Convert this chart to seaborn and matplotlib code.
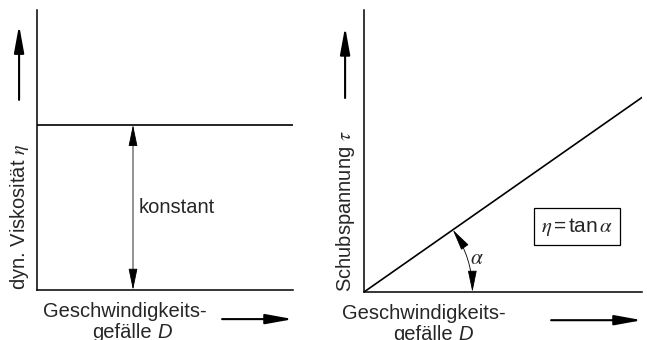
import numpy as np
import pandas as pd
import matplotlib
matplotlib.use("Agg")
import matplotlib.pyplot as plt
import seaborn as sns

# Daten (schematisch, Achsen ohne Skala)
gefaelle = [0.0, 1.0]
viskositaet = [0.59, 0.59]
schubspannung = [0.0, 0.69]
alpha_radius = 0.39  # Bogenradius als Anteil von D

sns.set_style("white")
plt.rcParams['font.family'] = ['Liberation Sans', 'DejaVu Sans']
plt.rcParams['mathtext.fontset'] = 'stix'

FS = 14.5
df = pd.DataFrame({"D": gefaelle, "eta": viskositaet, "tau": schubspannung})

fig = plt.figure(figsize=(6.47, 3.40), dpi=100)
ax1 = fig.add_axes([37 / 647, 50 / 340, 256 / 647, 280 / 340])
ax2 = fig.add_axes([364 / 647, 48 / 340, 278 / 647, 282 / 340])

for ax in (ax1, ax2):
    ax.set_xlim(0, 1)
    ax.set_ylim(0, 1)
    ax.set_xticks([])
    ax.set_yticks([])
    for s in ("top", "right"):
        ax.spines[s].set_visible(False)
    for s in ("left", "bottom"):
        ax.spines[s].set_color("black")
        ax.spines[s].set_linewidth(1.1)
    ax.patch.set_alpha(0)

sns.lineplot(data=df, x="D", y="eta", ax=ax1, color="black", lw=1.2)
sns.lineplot(data=df, x="D", y="tau", ax=ax2, color="black", lw=1.2)
for ax in (ax1, ax2):
    ax.set_xlabel("")
    ax.set_ylabel("")

big = dict(arrowstyle="-|>,head_length=1.65,head_width=0.3", color="black",
           lw=1.5, shrinkA=0, shrinkB=0, mutation_scale=10)
thin = dict(arrowstyle="<|-|>,head_length=1.35,head_width=0.28", color="black",
            lw=0.6, shrinkA=0, shrinkB=0, mutation_scale=10)


def achsen_deko(ax, xa, ylab, ya0, ya1, xar0, yar):
    # y-Pfeil und Beschriftung
    ax.annotate("", xy=(xa, ya1), xytext=(xa, ya0), xycoords="axes fraction",
                arrowprops=big, annotation_clip=False)
    ax.text(xa, 0.0, ylab, transform=ax.transAxes, rotation=90,
            ha="center", va="bottom", fontsize=FS)
    # x-Pfeil
    ax.annotate("", xy=(1.0, yar), xytext=(xar0, yar), xycoords="axes fraction",
                arrowprops=big, annotation_clip=False)


achsen_deko(ax1, -0.07, r"dyn. Viskosität $\eta$", 0.679, 0.946, 0.723, -0.104)
achsen_deko(ax2, -0.068, r"Schubspannung $\tau$", 0.688, 0.94, 0.673, -0.10)

# x-Beschriftungen
for ax, xc in ((ax1, 0.344), (ax2, 0.214)):
    ax.text(xc, -0.078, "Geschwindigkeits-", transform=ax.transAxes,
            ha="center", va="center", fontsize=FS)
    t = ax.text(xc + 0.105, -0.152, "gefälle", transform=ax.transAxes,
                ha="right", va="center", fontsize=FS)
    ax.annotate("D", xy=(1, 0), xycoords=t, xytext=(4, 0),
                textcoords="offset points", ha="left", va="bottom",
                fontsize=FS, fontstyle="italic")

# links: konstant
ax1.annotate("", xy=(0.375, viskositaet[0]), xytext=(0.375, 0.0),
             xycoords="data", arrowprops=thin)
ax1.text(0.398, 0.293, "konstant", ha="left", va="center", fontsize=FS)

# rechts: Winkel alpha
fig.canvas.draw()
trans = ax2.transData
o = trans.transform((0, 0))
p_unten = trans.transform((alpha_radius, 0))
r_px = p_unten[0] - o[0]
p_end = trans.transform((1, schubspannung[1]))
winkel = np.arctan2(p_end[1] - o[1], p_end[0] - o[0])
p_oben = o + r_px * np.array([np.cos(winkel), np.sin(winkel)])
inv = trans.inverted()
a_unten = inv.transform(p_unten)
a_oben = inv.transform(p_oben)
arc = dict(thin)
arc["connectionstyle"] = "arc3,rad=0.155"
ax2.annotate("", xy=a_oben, xytext=a_unten, xycoords="data", arrowprops=arc)
ax2.text(0.407, 0.12, r"$\alpha$", ha="center", va="center", fontsize=FS + 1)
ax2.text(0.766, 0.232, r"$\eta\,$=$\,$tan$\,\alpha$", transform=ax2.transAxes,
         ha="center", va="center", fontsize=FS + 0.5,
         bbox=dict(boxstyle="square,pad=0.35", fc="white", ec="black", lw=0.9))

fig.savefig("out.png", dpi=100)
